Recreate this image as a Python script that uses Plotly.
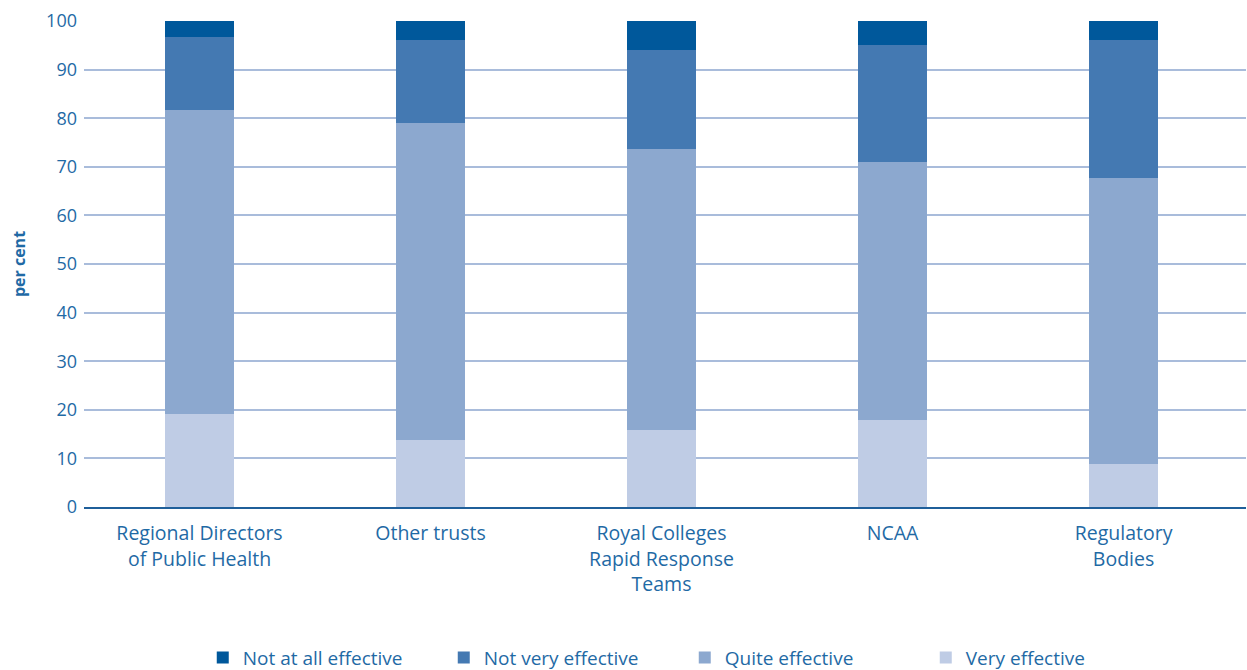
import plotly.graph_objects as go

categories = ["Regional Directors<br>of Public Health", "Other trusts",
              "Royal Colleges<br>Rapid Response<br>Teams", "NCAA", "Regulatory<br>Bodies"]
very_effective = [19.2, 13.8, 15.8, 17.9, 8.8]
quite_effective = [62.5, 65.2, 57.9, 53.1, 58.9]
not_very_effective = [15.0, 17.1, 20.3, 24.1, 28.4]
not_at_all_effective = [3.3, 3.9, 6.0, 4.9, 3.9]
y_ticks = [0, 10, 20, 30, 40, 50, 60, 70, 80, 90, 100]

series = [
    ("Very effective", very_effective, "#BFCCE5"),
    ("Quite effective", quite_effective, "#8CA8CF"),
    ("Not very effective", not_very_effective, "#4479B2"),
    ("Not at all effective", not_at_all_effective, "#00589B"),
]

text_color = "#1F6AA5"
font_family = "Open Sans, DejaVu Sans, sans-serif"

fig = go.Figure()
for name, vals, col in series:
    fig.add_trace(go.Bar(x=categories, y=vals, name=name, marker_color=col,
                         marker_line_width=0))

fig.update_layout(
    barmode="stack",
    bargap=0.7,
    width=1247, height=670,
    margin=dict(l=84, r=1, t=21, b=163, autoexpand=False),
    plot_bgcolor="white", paper_bgcolor="white",
    font=dict(family=font_family, color=text_color, size=18),
    legend=dict(orientation="h", x=0.517, xanchor="center", y=-0.31, yanchor="middle",
                traceorder="reversed", font=dict(size=19, color=text_color),
                itemwidth=30, entrywidthmode="pixels", entrywidth=196),
    showlegend=True,
)
fig.update_yaxes(range=[0, 100], tickvals=y_ticks, showgrid=True, automargin=False,
                 gridcolor="#A9BCDB", gridwidth=1.5, zeroline=False,
                 showline=False, ticks="", ticklabelstandoff=6,
                 tickfont=dict(size=18, color=text_color),
                 title=dict(text="<b>per cent</b>", font=dict(size=16, color=text_color), standoff=16))
fig.update_xaxes(range=[-0.5, 4.53], automargin=False, showline=True, linecolor="#1F5F9A",
                 linewidth=2, ticks="",
                 tickfont=dict(size=19.5, color=text_color), ticklabelstandoff=8)

fig.write_html("out.html")
